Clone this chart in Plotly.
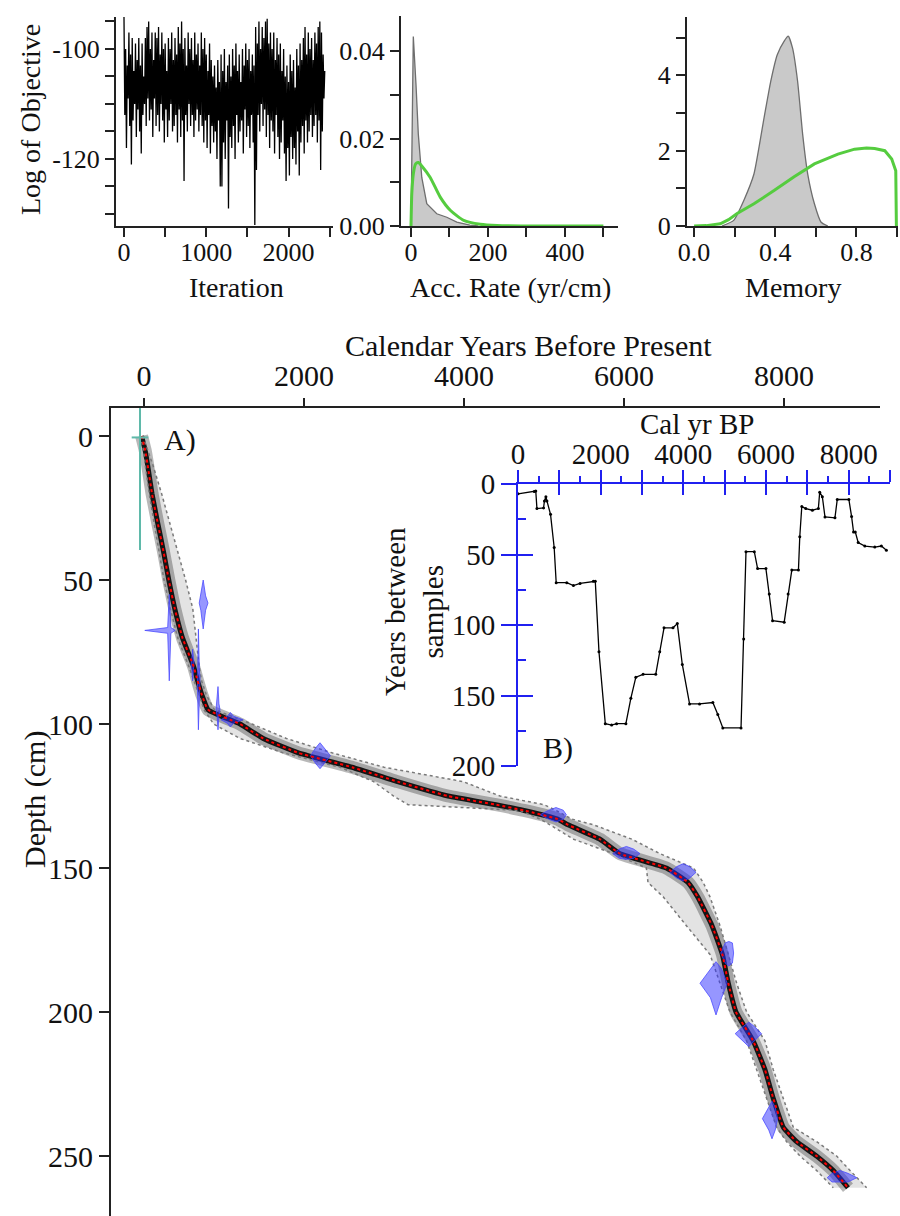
import plotly.graph_objects as go

W, H = 900, 1216
FONT = "'Liberation Serif', 'Times New Roman', Times, 'DejaVu Serif', serif"

# ---------------- data ----------------
# Panel 1: MCMC log objective trace (one value every 10 iterations)
log_objective = [
    -94, -112, -100, -118, -103, -109, -97, -114, -101, -121,
    -98, -113, -104, -110, -99, -116, -102, -111, -98, -115,
    -103, -119, -99, -112, -105, -110, -98, -114, -96, -109,
    -95, -113, -100, -111, -97, -116, -102, -109, -97, -114,
    -98, -112, -96, -115, -101, -110, -97, -113, -100, -117,
    -99, -111, -104, -116, -98, -113, -100, -110, -97, -115,
    -102, -114, -98, -112, -101, -117, -96, -111, -99, -116,
    -95, -113, -100, -124, -98, -112, -103, -115, -97, -110,
    -100, -114, -98, -112, -102, -116, -97, -113, -101, -111,
    -99, -115, -103, -112, -97, -114, -100, -117, -98, -113,
    -101, -118, -104, -112, -99, -119, -102, -114, -105, -117,
    -103, -115, -107, -120, -102, -113, -106, -125, -101, -125,
    -104, -117, -100, -120, -106, -113, -103, -129, -101, -116,
    -105, -118, -100, -114, -103, -120, -99, -112, -104, -117,
    -101, -115, -106, -113, -100, -119, -103, -111, -99, -116,
    -102, -114, -100, -118, -104, -112, -101, -117, -103, -132,
    -96, -122, -99, -112, -95, -115, -100, -110, -96, -114,
    -98, -111, -95, -116, -94.5, -112, -99, -118, -97, -113,
    -100, -115, -97, -119, -102, -112, -98, -116, -101, -120,
    -99, -117, -104, -113, -100, -119, -105, -124, -103, -118,
    -106, -123, -101, -116, -104, -120, -102, -118, -107, -121,
    -100, -115, -103, -123, -99, -117, -102, -114, -98, -119,
    -96, -113, -101, -117, -97, -115, -100, -112, -98, -116,
    -102, -114, -97, -112, -99, -117, -96, -113, -95, -122,
    -97, -115, -101, -109, -104,
]
iterations = list(range(0, 10 * len(log_objective), 10))

# Panel 2: accumulation rate posterior (gray) and prior (green)
acc_post_x = [0, 3, 6, 13, 19, 28, 41, 67, 93, 119, 153, 175]
acc_post_y = [0, 0.030, 0.0433, 0.0323, 0.021, 0.0111, 0.0051, 0.0028, 0.002, 0.0009, 0.0002, 0]
acc_prior_x = [0, 2, 6, 12, 19, 30, 50, 76, 102, 137, 180, 224, 300, 400, 500]
acc_prior_y = [0, 0.0073, 0.0119, 0.0142, 0.0145, 0.0135, 0.0111, 0.0066, 0.0036, 0.0013,
               0.0004, 0.0001, 0, 0, 0]

# Panel 3: memory posterior (gray) and prior (green)
mem_post_x = [0.137, 0.195, 0.245, 0.295, 0.345, 0.378, 0.41, 0.444, 0.464, 0.485,
              0.51, 0.535, 0.56, 0.593, 0.626, 0.659]
mem_post_y = [0, 0.15, 0.68, 1.38, 2.88, 3.85, 4.55, 4.91, 5.04, 4.73,
              3.85, 2.44, 1.38, 0.59, 0.1, 0]
mem_prior_x = [0, 0.06, 0.129, 0.17, 0.212, 0.25, 0.295, 0.394, 0.493, 0.593,
               0.709, 0.791, 0.85, 0.89, 0.94, 0.974, 0.994, 0.997]
mem_prior_y = [0, 0.01, 0.06, 0.17, 0.33, 0.45, 0.59, 0.94, 1.31, 1.65,
               1.91, 2.04, 2.07, 2.06, 2.0, 1.78, 1.47, 0]

# Main panel: age-depth model
depths = [0, 5, 10, 20, 30, 40, 50, 60, 70, 80, 85, 90, 95, 100, 105, 110, 115, 120, 125, 128,
          130, 133, 135, 140, 145, 150, 155, 160, 170, 180, 190, 200, 210, 220, 230, 240, 245, 250, 255, 261]
age_mean = [-30, 15, 45, 100, 170, 243, 310, 385, 480, 620, 670, 725, 800, 1200, 1490, 1930, 2600, 3170, 3800, 4400,
            4750, 5170, 5300, 5700, 5950, 6530, 6800, 6920, 7100, 7230, 7304, 7400, 7615, 7762, 7866, 7991, 8158, 8408, 8616, 8800]
age_lo = [-45, -5, 15, 65, 125, 190, 250, 330, 420, 560, 630, 690, 750, 870, 1200, 1740, 2450, 2870, 3120, 3300,
          4700, 4950, 5075, 5370, 5870, 6280, 6300, 6490, 6780, 7075, 7200, 7325, 7533, 7658, 7783, 7908, 8033, 8200, 8408, 8616]
age_hi = [-15, 50, 110, 220, 320, 420, 520, 610, 650, 690, 720, 780, 880, 1350, 1780, 2350, 3000, 3990, 4450, 5000,
          5150, 5350, 5620, 6100, 6450, 6870, 6990, 7075, 7200, 7300, 7408, 7533, 7762, 7866, 7991, 8116, 8408, 8658, 8825, 9033]

# calibrated dates (age range x depth range)
date_age = [316, 740, 680, 608, 925, 1080, 2200, 5150, 6030, 6740, 7310, 7150, 7560, 7850, 8700]
date_depth = [67.5, 58, 84, 79, 95, 98.5, 111, 131.5, 145, 151.5, 179.5, 190, 207.5, 237, 257.5]
date_age_min = [10, 690, 665, 590, 900, 960, 2080, 4950, 5860, 6570, 7210, 6950, 7390, 7730, 8540]
date_age_max = [390, 800, 700, 625, 950, 1240, 2330, 5280, 6200, 6900, 7370, 7290, 7720, 7920, 8910]
date_depth_min = [55, 50, 67, 74, 87, 96, 106.5, 129, 142.5, 148.5, 175.5, 182.5, 203.5, 231, 255]
date_depth_max = [85, 67, 102, 85, 102, 101, 115.5, 134, 147, 154.5, 184, 201, 212, 244, 259]
date_core_age = [20, 30, 12, 10, 12, 40, 60, 90, 90, 80, 45, 70, 70, 40, 100]
date_core_depth = [1.0, 2.5, 3, 2, 2, 1.2, 2.5, 1.6, 1.6, 2, 3.5, 5, 2.5, 4, 1.5]

# surface date cross
surface_age = [-154, 54]
surface_depth_v = [-10, 39.6]
surface_age_c = -50
surface_depth_c = 0.5

# Inset: years between samples
gap_age = [0, 393, 430, 458, 618, 640, 675, 700, 787, 875, 924, 1180, 1341, 1502, 1823, 1870, 1959, 2112, 2265, 2385,
           2610, 2730, 2851, 3027, 3332, 3429, 3533, 3750, 3854, 3975, 4151, 4392, 4714, 4834, 4955, 5396, 5460, 5516, 5717, 5797,
           5998, 6078, 6159, 6440, 6536, 6625, 6785, 6817, 6866, 6962, 7122, 7267, 7299, 7363, 7427, 7668, 7724, 8005, 8070, 8118,
           8160, 8230, 8391, 8632, 8792, 8913]
gap_years = [7, 5.3, 5, 17.4, 17, 12, 9, 12, 21.5, 45, 70, 70, 72, 70.5, 69, 69, 119, 170, 171, 170,
             170, 152, 137, 135, 135, 119, 102, 102, 99, 128, 156, 156, 155, 163.5, 173, 173, 110, 48, 48, 60,
             60, 78, 97, 98, 78, 61, 61, 37.4, 16, 17.4, 18.6, 17.4, 5.8, 9, 23.4, 24, 11, 11, 23, 34,
             34, 41.5, 44, 44.7, 44, 47]

# ---------------- helpers ----------------
def fx(p):
    return p / W


def fy(p):
    return 1 - p / H


fig = go.Figure()

# Panel 1
fig.add_trace(go.Scatter(x=iterations, y=log_objective, mode="lines",
                         line=dict(color="black", width=1.3), xaxis="x", yaxis="y"))
# Panel 2
fig.add_trace(go.Scatter(x=acc_post_x, y=acc_post_y, mode="lines", fill="tozeroy",
                         fillcolor="#c9c9c9", line=dict(color="#6e6e6e", width=1.3),
                         xaxis="x2", yaxis="y2"))
fig.add_trace(go.Scatter(x=acc_prior_x, y=acc_prior_y, mode="lines",
                         line=dict(color="#55cc3f", width=3, shape="spline", smoothing=0.6),
                         xaxis="x2", yaxis="y2"))
# Panel 3
fig.add_trace(go.Scatter(x=mem_post_x, y=mem_post_y, mode="lines", fill="tozeroy",
                         fillcolor="#c9c9c9", line=dict(color="#6e6e6e", width=1.3, shape="spline", smoothing=0.5),
                         xaxis="x3", yaxis="y3"))
fig.add_trace(go.Scatter(x=mem_prior_x, y=mem_prior_y, mode="lines",
                         line=dict(color="#55cc3f", width=3),
                         xaxis="x3", yaxis="y3"))

# Main panel: uncertainty band
fig.add_trace(go.Scatter(x=age_lo + age_hi[::-1], y=depths + depths[::-1], mode="lines",
                         fill="toself", fillcolor="rgba(0,0,0,0.11)", line=dict(width=0),
                         xaxis="x4", yaxis="y4", hoverinfo="skip"))
fig.add_trace(go.Scatter(x=age_mean, y=depths, mode="lines",
                         line=dict(color="rgba(0,0,0,0.28)", width=13, shape="spline", smoothing=0.4),
                         xaxis="x4", yaxis="y4"))
fig.add_trace(go.Scatter(x=age_mean, y=depths, mode="lines",
                         line=dict(color="rgba(0,0,0,0.88)", width=5, shape="spline", smoothing=0.4),
                         xaxis="x4", yaxis="y4"))
for arr in (age_lo, age_hi):
    fig.add_trace(go.Scatter(x=arr, y=depths, mode="lines",
                             line=dict(color="#7a7a7a", width=1.5, dash="dot"),
                             xaxis="x4", yaxis="y4"))

# calibrated dates
for ac, dc, amin, amax, dmin, dmax, w, t in zip(date_age, date_depth, date_age_min, date_age_max,
                                                 date_depth_min, date_depth_max, date_core_age, date_core_depth):
    xs = [amax, ac + w, ac, ac - w, amin, ac - w, ac, ac + w, amax]
    ys = [dc, dc - t, dmin, dc - t, dc, dc + t, dmax, dc + t, dc]
    fig.add_trace(go.Scatter(x=xs, y=ys, mode="lines", fill="toself",
                             fillcolor="rgba(45,45,255,0.5)",
                             line=dict(color="rgba(70,70,255,0.75)", width=1),
                             xaxis="x4", yaxis="y4", hoverinfo="skip"))

# red mean line
fig.add_trace(go.Scatter(x=age_mean, y=depths, mode="lines",
                         line=dict(color="red", width=2, dash="dot", shape="spline", smoothing=0.4),
                         xaxis="x4", yaxis="y4"))

# surface cross
fig.add_trace(go.Scatter(x=surface_age, y=[surface_depth_c, surface_depth_c], mode="lines",
                         line=dict(color="#5fb9aa", width=2), xaxis="x4", yaxis="y4"))
fig.add_trace(go.Scatter(x=[surface_age_c, surface_age_c], y=surface_depth_v, mode="lines",
                         line=dict(color="#5fb9aa", width=2), xaxis="x4", yaxis="y4"))

# Inset
fig.add_trace(go.Scatter(x=gap_age, y=gap_years, mode="lines+markers",
                         line=dict(color="black", width=1.3),
                         marker=dict(color="black", size=3),
                         xaxis="x5", yaxis="y5"))
fig.add_trace(go.Scatter(x=[0], y=[0], mode="markers", marker=dict(opacity=0),
                         xaxis="x6", yaxis="y6", hoverinfo="skip"))

# ---------------- axes ----------------
def ax(**kw):
    base = dict(showline=True, linecolor="#222", linewidth=2, ticks="outside",
                tickcolor="#222", tickwidth=2, ticklen=9, showgrid=False, zeroline=False,
                tickfont=dict(family=FONT, size=26, color="#111"), automargin=False,
                tickmode="array", fixedrange=True)
    base.update(kw)
    return base


BLUE = "#2020f0"
TOPX = dict(family=FONT, size=26, color="#111")
BIG = dict(family=FONT, size=30, color="#111")
INS = dict(family=FONT, size=29, color="#111")
layout = dict(
    width=W, height=H, margin=dict(l=0, r=0, t=0, b=0),
    paper_bgcolor="white", plot_bgcolor="rgba(0,0,0,0)", showlegend=False,
    template="none", font=dict(family=FONT),
    xaxis=ax(domain=[fx(116), fx(333)], range=[-97, 2540], anchor="y", tickfont=TOPX,
             ticklabelstandoff=-7,
             tickvals=[0, 500, 1000, 1500, 2000, 2500], ticktext=["0", "", "1000", "", "2000", ""]),
    yaxis=ax(domain=[fy(226), fy(17)], range=[-132.2, -94.2], anchor="x",
             tickvals=[-130, -125, -120, -115, -110, -105, -100, -95],
             ticktext=["", "", "-120", "", "", "", "-100", ""]),
    xaxis2=ax(domain=[fx(401), fx(618)], range=[-26, 538], anchor="y2", tickfont=TOPX,
              ticklabelstandoff=-7,
              tickvals=[0, 100, 200, 300, 400, 500], ticktext=["0", "", "200", "", "400", ""]),
    yaxis2=ax(domain=[fy(226), fy(16)], range=[0, 0.048], anchor="x2",
              tickvals=[0, 0.01, 0.02, 0.03, 0.04], ticktext=["0.00", "", "0.02", "", "0.04"]),
    xaxis3=ax(domain=[fx(687), fx(898)], range=[-0.035, 1.005], anchor="y3", tickfont=TOPX,
              ticklabelstandoff=-7,
              tickvals=[0, 0.2, 0.4, 0.6, 0.8, 1.0], ticktext=["0.0", "", "0.4", "", "0.8", ""]),
    yaxis3=ax(domain=[fy(226), fy(17)], range=[0, 5.55], anchor="x3",
              tickvals=[0, 1, 2, 3, 4, 5], ticktext=["0", "", "2", "", "4", ""]),
    xaxis4=ax(domain=[fx(111), fx(880)], range=[-412.5, 9200], anchor="y4", side="top",
              tickvals=[0, 2000, 4000, 6000, 8000], ticktext=["0", "2000", "4000", "6000", "8000"],
              tickfont=BIG, ticklen=8),
    yaxis4=ax(domain=[0, fy(408)], range=[270.8, -9.72], anchor="x4",
              tickvals=[0, 50, 100, 150, 200, 250], ticktext=["0", "50", "100", "150", "200", "250"],
              tickfont=BIG, ticklen=10),
    xaxis5=ax(domain=[fx(518), fx(890)], range=[0, 9000], anchor="y5", side="top",
              linecolor=BLUE, tickcolor=BLUE, ticklen=12, ticklabelstandoff=-6,
              tickvals=list(range(0, 10000, 1000)),
              ticktext=["0", "", "2000", "", "4000", "", "6000", "", "8000", ""],
              tickfont=INS,
              minor=dict(tickmode="array", tickvals=list(range(500, 9000, 1000)), ticks="outside",
                         ticklen=6, tickcolor=BLUE, tickwidth=2)),
    yaxis5=ax(domain=[fy(766), fy(484)], range=[200, 0], anchor="x5", side="left",
              linecolor=BLUE, tickcolor=BLUE, ticklen=15,
              tickvals=[0, 50, 100, 150, 200], ticktext=["0", "50", "100", "150", "200"],
              tickfont=INS),
    xaxis6=ax(overlaying="x5", range=[0, 9000], anchor="y6", side="top", showline=False,
              ticks="inside", tickcolor=BLUE, ticklen=11, showticklabels=False,
              tickvals=list(range(1000, 10000, 1000))),
    yaxis6=ax(overlaying="y5", range=[200, 0], anchor="x6", side="left", showline=False,
              ticks="inside", tickcolor=BLUE, ticklen=15, showticklabels=False,
              tickvals=[50, 100, 150, 200],
              minor=dict(tickmode="array", tickvals=[25, 75, 125, 175], ticks="inside",
                         ticklen=8, tickcolor=BLUE, tickwidth=2)),
)
fig.update_layout(**layout)


def note(text, x, y, size=29, angle=0):
    fig.add_annotation(text=text, x=fx(x), y=fy(y), xref="paper", yref="paper",
                       showarrow=False, xanchor="center", yanchor="middle", textangle=angle,
                       font=dict(family=FONT, size=size, color="#111"))


note("Log of Objective", 30, 120, size=28, angle=-90)
note("Iteration", 237, 287, size=28)
note("Acc. Rate (yr/cm)", 510, 287, size=28)
note("Memory", 793, 287, size=28)
note("Calendar Years Before Present", 528, 345, size=30)
note("Depth (cm)", 35, 800, size=30, angle=-90)
note("A)", 180, 440, size=30)
note("Cal yr BP", 697, 424)
note("Years between<br>samples", 414, 612, size=29, angle=-90)
note("B)", 558, 748, size=30)

fig.write_html("out.html", config={"displayModeBar": False},
               post_script="document.body.style.margin='0px';document.body.style.overflow='hidden';")
